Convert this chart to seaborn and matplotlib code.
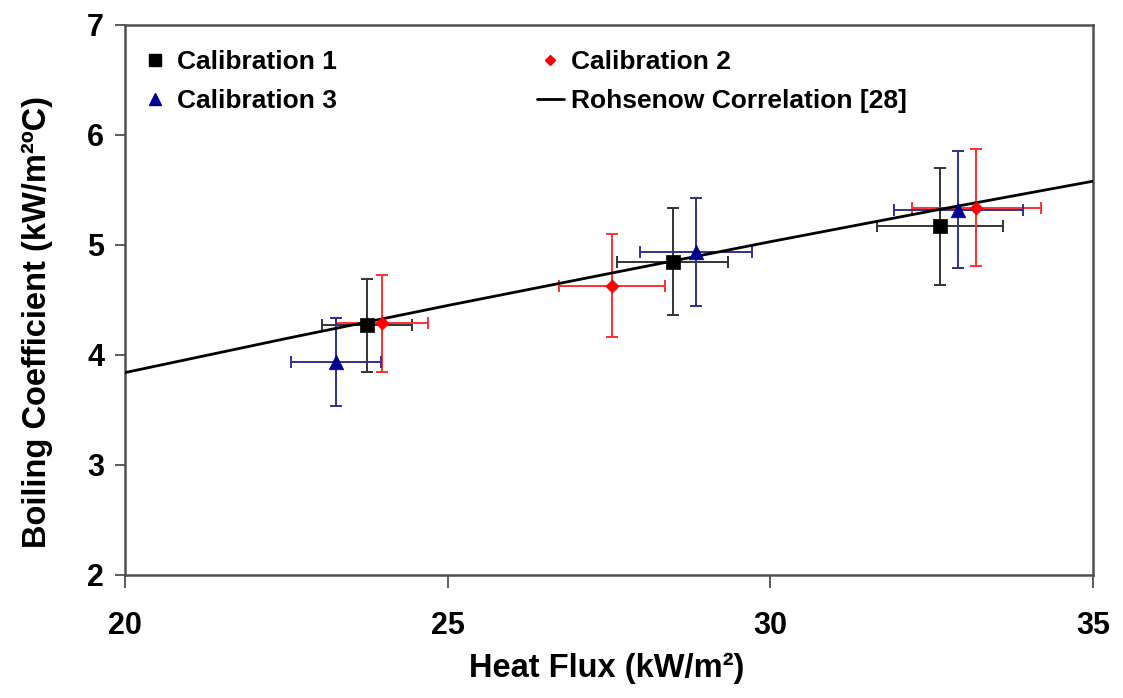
import matplotlib
matplotlib.use("Agg")
import matplotlib.pyplot as plt
import seaborn as sns
import pandas as pd
from matplotlib.lines import Line2D

# ---- data ----
cal1_x = [23.75, 28.49, 32.63]
cal1_y = [4.27, 4.85, 5.17]
cal1_xerr = [0.70, 0.86, 0.97]
cal1_yerr = [0.42, 0.49, 0.53]

cal2_x = [23.98, 27.55, 33.19]
cal2_y = [4.29, 4.63, 5.34]
cal2_xerr = [0.71, 0.82, 1.00]
cal2_yerr = [0.44, 0.47, 0.53]

cal3_x = [23.27, 28.85, 32.91]
cal3_y = [3.94, 4.94, 5.32]
cal3_xerr = [0.70, 0.87, 1.00]
cal3_yerr = [0.40, 0.49, 0.53]

rohsenow_x = [20, 22.5, 25, 27.5, 30, 32.5, 35]
rohsenow_y = [3.84, 4.15, 4.45, 4.74, 5.03, 5.31, 5.58]

x_ticks = [20, 25, 30, 35]
y_ticks = [2, 3, 4, 5, 6, 7]

sns.set_theme(style="white")
plt.rcParams['font.family'] = ['Liberation Sans', 'DejaVu Sans']
plt.rcParams['text.color'] = 'black'
plt.rcParams['axes.labelcolor'] = 'black'
plt.rcParams['xtick.color'] = 'black'
plt.rcParams['ytick.color'] = 'black'

fig = plt.figure(figsize=(11.23, 6.98), dpi=100)
ax = fig.add_axes([125/1123, 1 - 575/698, (1093-125)/1123, (575-25)/698])

# Rohsenow correlation
line_df = pd.DataFrame({"q": rohsenow_x, "h": rohsenow_y})
sns.lineplot(data=line_df, x="q", y="h", ax=ax, color="black", linewidth=2.0,
             legend=False, zorder=3)

series = [
    ("Calibration 1", cal1_x, cal1_y, cal1_xerr, cal1_yerr, "black", "#333333", "s", 100),
    ("Calibration 2", cal2_x, cal2_y, cal2_xerr, cal2_yerr, "#ff0000", "#ff3030", "D", 45),
    ("Calibration 3", cal3_x, cal3_y, cal3_xerr, cal3_yerr, "#000090", "#303090", "^", 110),
]

for name, xs, ys, xe, ye, col, ecol, mk, sz in series:
    ax.errorbar(xs, ys, xerr=xe, yerr=ye, fmt="none", ecolor=ecol,
                elinewidth=1.4, capsize=4.5, capthick=1.4, zorder=2)
    df = pd.DataFrame({"x": xs, "y": ys})
    sns.scatterplot(data=df, x="x", y="y", ax=ax, marker=mk, s=sz, color=col,
                    edgecolor=col, linewidth=0.5, zorder=4, legend=False)

ax.set_xlim(20, 35)
ax.set_ylim(2, 7)
ax.set_xticks(x_ticks)
ax.set_yticks(y_ticks)
ax.set_xticklabels([str(v) for v in x_ticks], fontsize=22, fontweight="bold")
ax.set_yticklabels([str(v) for v in y_ticks], fontsize=22, fontweight="bold")
ax.tick_params(axis="x", direction="out", length=9, width=1.2, pad=17, color="#404040")
ax.tick_params(axis="y", direction="out", length=7, width=1.2, pad=8, color="#404040")
ax.tick_params(bottom=True, left=True)

for sp in ax.spines.values():
    sp.set_visible(True)
    sp.set_color("#505050")
    sp.set_linewidth(1.8)

ax.set_xlabel("Heat Flux (kW/m²)", fontsize=23.5, fontweight="bold")
ax.set_ylabel("Boiling Coefficient (kW/m²ºC)", fontsize=23.5, fontweight="bold")
ax.xaxis.set_label_coords(0.498, -0.142)
ax.yaxis.set_label_coords(-0.074, 0.46)

handles = [
    Line2D([], [], color="black", marker="s", linestyle="none", markersize=8),
    Line2D([], [], color="#000090", marker="^", linestyle="none", markersize=8),
    Line2D([], [], color="#ff0000", marker="D", linestyle="none", markersize=5.5),
    Line2D([], [], color="black", linewidth=2.0),
]
labels = ["Calibration 1", "Calibration 3", "Calibration 2", "Rohsenow Correlation [28]"]
leg = ax.legend(handles, labels, ncol=2, loc="upper left", bbox_to_anchor=(-0.0067, 0.997),
                frameon=False, prop={"size": 19, "weight": "bold"},
                handlelength=1.0, handletextpad=0.3, columnspacing=7.6, labelspacing=0.55)

fig.savefig("out.png", dpi=100)
